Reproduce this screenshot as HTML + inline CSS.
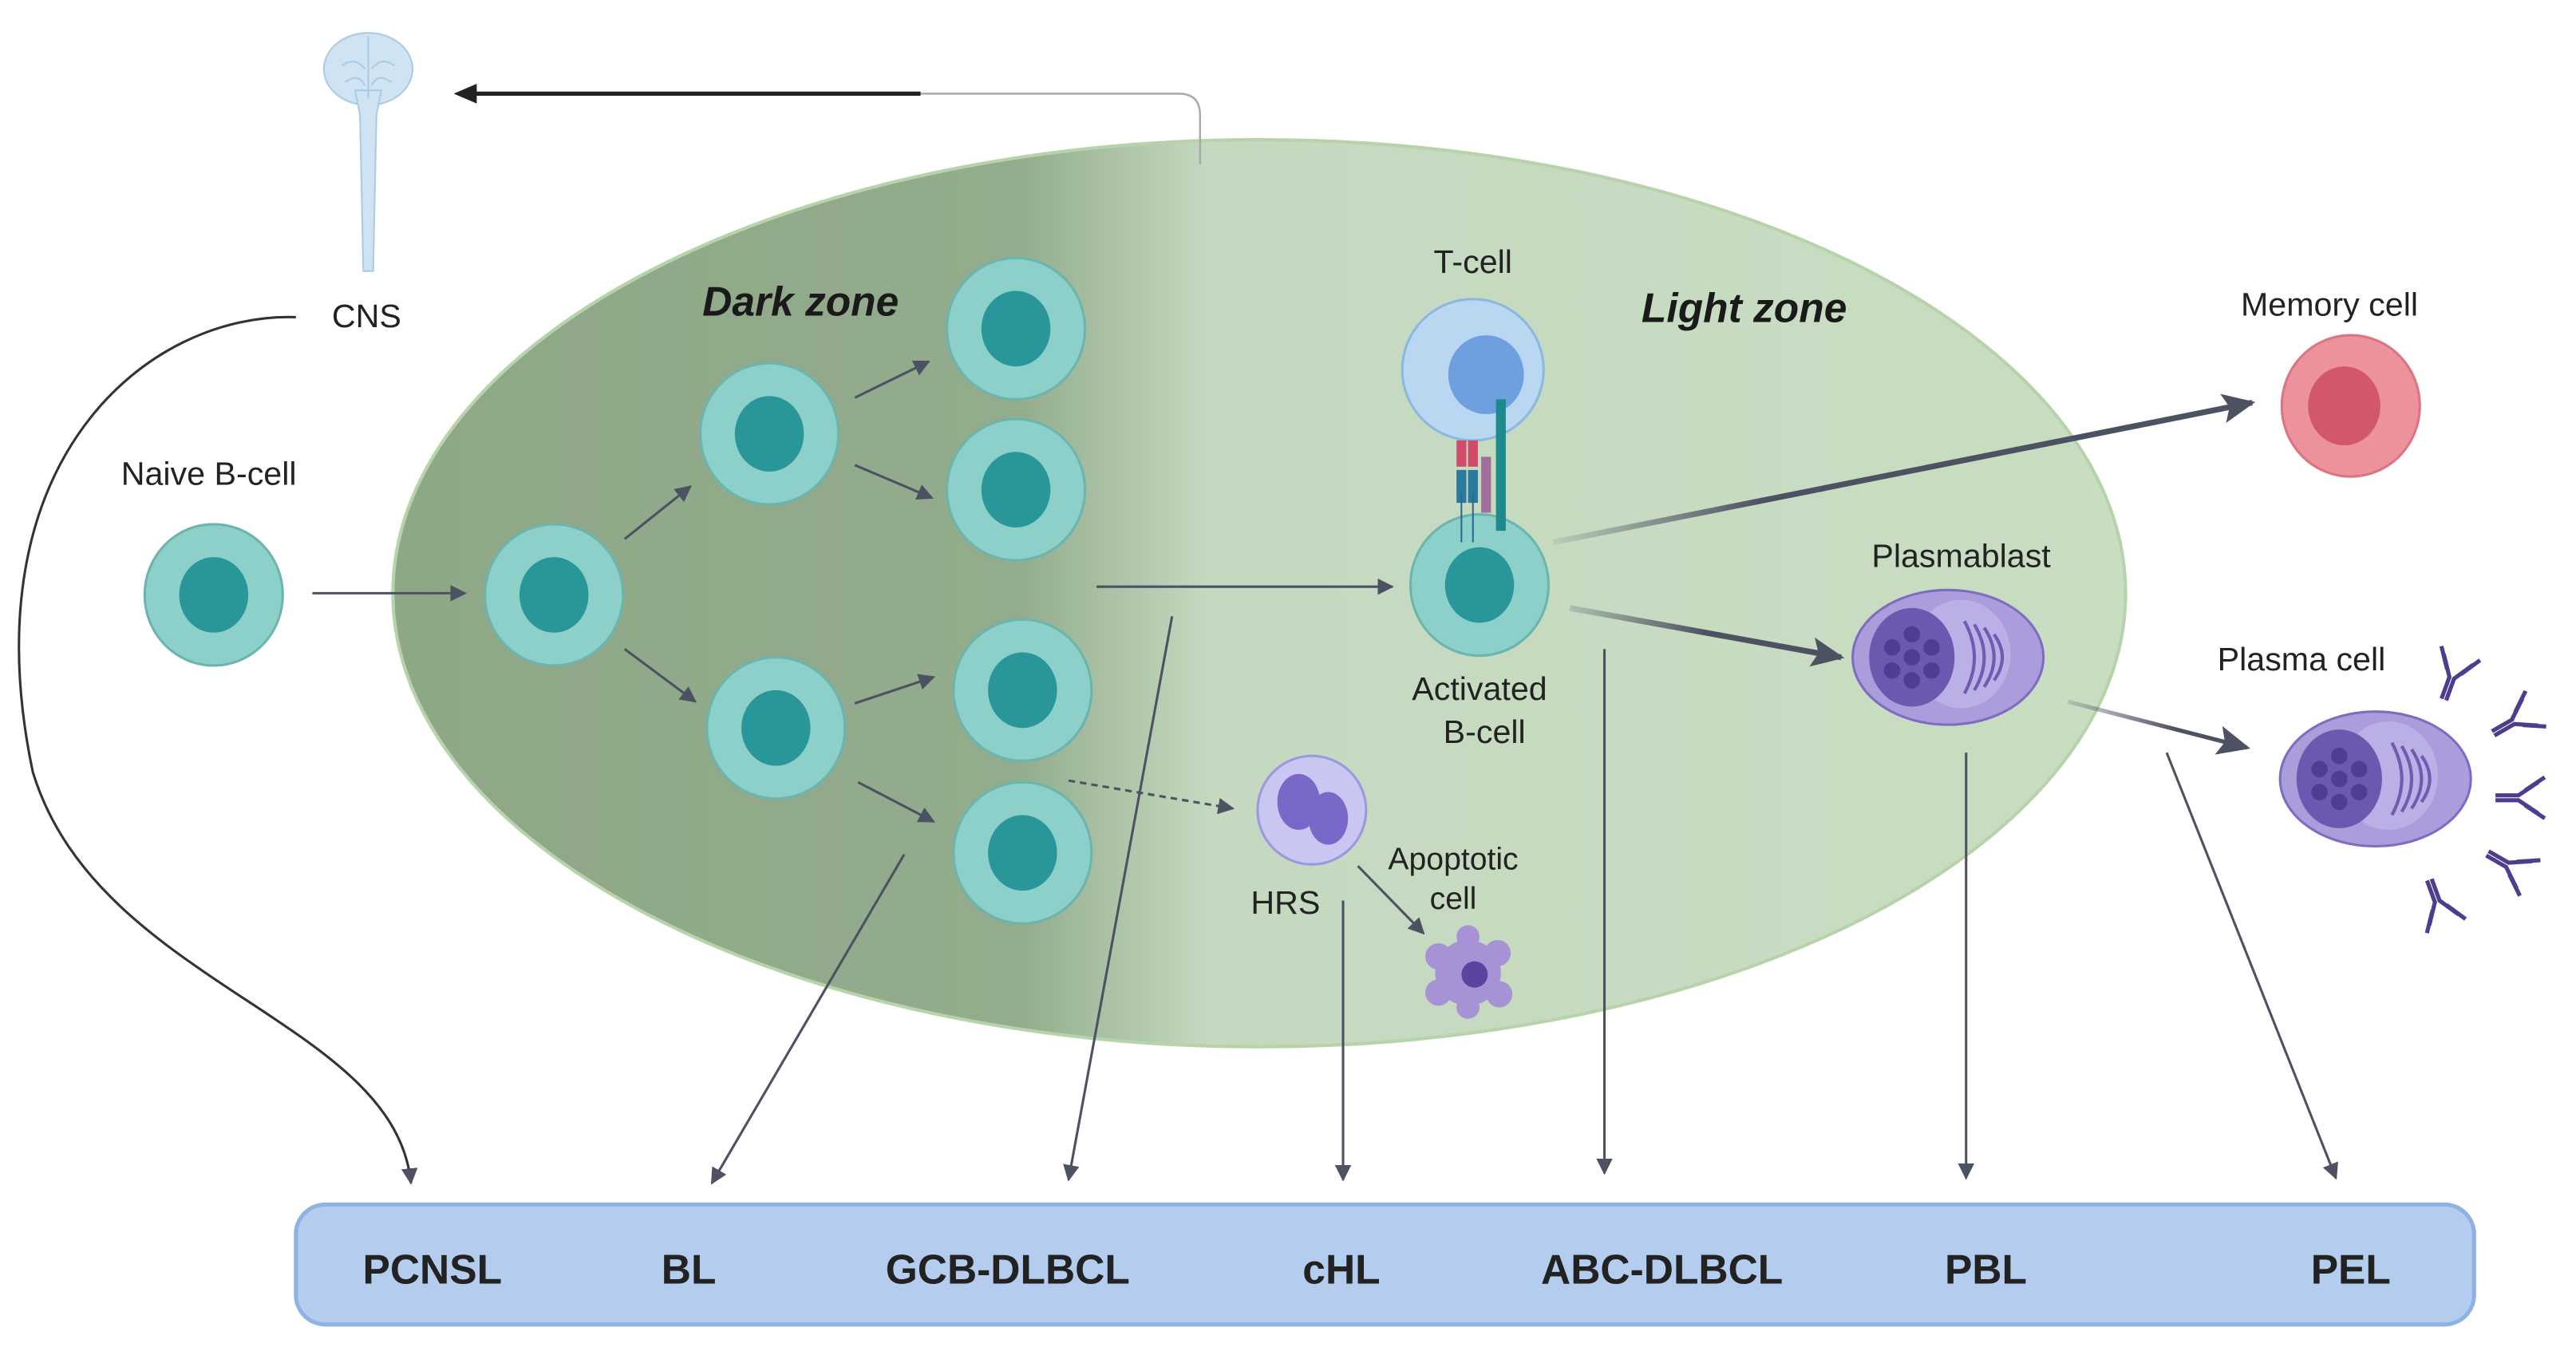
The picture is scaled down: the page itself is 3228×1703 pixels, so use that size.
<!DOCTYPE html>
<html><head><meta charset="utf-8"><style>html,body{margin:0;padding:0;background:#fff}svg{display:block}text{font-family:"Liberation Sans",sans-serif;fill:#222}</style></head><body>
<svg width="3228" height="1703" viewBox="0 0 1567 827" preserveAspectRatio="none" xmlns="http://www.w3.org/2000/svg">
<defs>
<linearGradient id="gz" x1="240" x2="1293" y1="0" y2="0" gradientUnits="userSpaceOnUse">
<stop offset="0" stop-color="#8ea787"/><stop offset="0.36" stop-color="#93ac8d"/><stop offset="0.47" stop-color="#c4d9bf"/><stop offset="1" stop-color="#c9ddc3"/></linearGradient>
<linearGradient id="ga" x1="945" y1="330" x2="1370" y2="245" gradientUnits="userSpaceOnUse"><stop offset="0" stop-color="#4d5263" stop-opacity="0.1"/><stop offset="0.3" stop-color="#4d5263"/></linearGradient>
<linearGradient id="gb" x1="955" y1="370" x2="1120" y2="400" gradientUnits="userSpaceOnUse"><stop offset="0" stop-color="#4d5263" stop-opacity="0.2"/><stop offset="0.5" stop-color="#4d5263"/></linearGradient>
<linearGradient id="gc" x1="1258" y1="427" x2="1367" y2="455" gradientUnits="userSpaceOnUse"><stop offset="0" stop-color="#4d5263" stop-opacity="0.2"/><stop offset="0.6" stop-color="#4d5263"/></linearGradient>
<marker id="ar" markerWidth="10" markerHeight="10" refX="9" refY="5" orient="auto" markerUnits="userSpaceOnUse"><path d="M0,0 L10,5 L0,10 z" fill="#4d5263"/></marker>
<marker id="ar2" markerWidth="20" markerHeight="18" refX="18" refY="9" orient="auto" markerUnits="userSpaceOnUse"><path d="M0,0 L20,9 L0,18 L4,9 z" fill="#4d5263"/></marker>
<g id="bc"><ellipse rx="42" ry="43" fill="#8dcfc9" stroke="#6bb5ae" stroke-width="1.5"/><ellipse rx="21" ry="23" fill="#29979a"/></g>
<g id="pc"><ellipse rx="58" ry="41" fill="#ab9cdb" stroke="#7e6cc0" stroke-width="1.5"/><ellipse cx="8" cy="-2" rx="30" ry="33" fill="#bbb0e6"/><ellipse cx="-22" cy="0" rx="26" ry="30" fill="#6b58b0"/><circle cx="-22" cy="0" r="5" fill="#4e3c95"/><circle cx="-22" cy="-14" r="5" fill="#4e3c95"/><circle cx="-22" cy="14" r="5" fill="#4e3c95"/><circle cx="-34" cy="-6" r="5" fill="#4e3c95"/><circle cx="-34" cy="8" r="5" fill="#4e3c95"/><circle cx="-10" cy="-6" r="5" fill="#4e3c95"/><circle cx="-10" cy="8" r="5" fill="#4e3c95"/><path d="M10,-22 Q22,0 10,22 M16,-20 Q28,0 16,20 M22,-18 Q34,0 22,18 M28,-14 Q38,0 28,14" fill="none" stroke="#6e5cb2" stroke-width="2"/></g>
<g id="ab"><path d="M0,14 L0,0 L-8,-12 M3,14 L3,0 L11,-12 M-3,-4 L-11,-16 M6,-4 L14,-16" stroke="#4e3c8f" stroke-width="2.5" fill="none"/></g>
</defs>
<ellipse cx="766" cy="361" rx="527" ry="276" fill="url(#gz)" stroke="#b6d3aa" stroke-width="2"/>
<path d="M730,100 L730,70 Q730,57 717,57 L560,57" fill="none" stroke="#aaa" stroke-width="1.2"/>
<path d="M560,57 L282,57" stroke="#222" stroke-width="2.5"/><path d="M276,57 L290,51 L290,63 z" fill="#222"/>
<ellipse cx="224" cy="42" rx="27" ry="22" fill="#cfe3f2" stroke="#a9cbe4"/>
<path d="M216,55 L232,55 L229,70 L227,165 L221,165 L219,70 z" fill="#cfe3f2" stroke="#a9cbe4"/>
<path d="M224,22 L224,60 M208,40 Q216,34 222,42 M240,40 Q232,34 226,42 M210,50 Q218,44 222,52 M238,50 Q230,44 226,52" stroke="#a9cbe4" fill="none"/>
<text x="223" y="199" font-size="20" text-anchor="middle">CNS</text>
<path d="M180,193 C90,190 -20,280 20,470 C60,600 240,620 250,720" fill="none" stroke="#333" stroke-width="1.5" marker-end="url(#ar)"/>
<text x="127" y="295" font-size="20" text-anchor="middle">Naive B-cell</text>
<use href="#bc" x="130" y="362"/>
<g stroke="#4d5263" stroke-width="1.5" fill="none" marker-end="url(#ar)">
<line x1="190" y1="361" x2="283" y2="361"/>
<line x1="380" y1="328" x2="420" y2="296"/><line x1="380" y1="395" x2="423" y2="427"/>
<line x1="520" y1="242" x2="565" y2="220"/><line x1="520" y1="283" x2="567" y2="303"/>
<line x1="520" y1="428" x2="568" y2="412"/><line x1="522" y1="476" x2="568" y2="500"/>
<line x1="650" y1="475" x2="750" y2="492" stroke-dasharray="4,3"/>
<line x1="667" y1="357" x2="847" y2="357"/>
<line x1="826" y1="527" x2="866" y2="568"/>
<line x1="550" y1="520" x2="433" y2="720"/><line x1="713" y1="375" x2="650" y2="718"/>
<line x1="817" y1="548" x2="817" y2="718"/><line x1="976" y1="395" x2="976" y2="714"/>
<line x1="1196" y1="458" x2="1196" y2="717"/><line x1="1318" y1="458" x2="1421" y2="717"/>
</g>
<use href="#bc" x="337" y="362"/><use href="#bc" x="468" y="264"/><use href="#bc" x="472" y="443"/>
<use href="#bc" x="618" y="200"/><use href="#bc" x="618" y="298"/><use href="#bc" x="622" y="420"/><use href="#bc" x="622" y="519"/>
<text x="487" y="192" font-size="25" font-weight="bold" font-style="italic" text-anchor="middle" style="fill:#1a1a1a">Dark zone</text>
<text x="1061" y="196" font-size="25" font-weight="bold" font-style="italic" text-anchor="middle" style="fill:#1a1a1a">Light zone</text>
<text x="896" y="166" font-size="20" text-anchor="middle">T-cell</text>
<circle cx="896" cy="225" r="43" fill="#b9d7f1" stroke="#8bb8e0" stroke-width="1.5"/><ellipse cx="904" cy="228" rx="23" ry="24" fill="#6ea0e0"/>
<use href="#bc" x="900" y="356"/>
<rect x="886" y="268" width="6" height="16" fill="#d04a6a"/><rect x="886" y="286" width="6" height="20" fill="#2a7aa0"/>
<rect x="893" y="268" width="6" height="16" fill="#d04a6a"/><rect x="893" y="286" width="6" height="20" fill="#2a7aa0"/>
<rect x="901" y="278" width="6" height="34" fill="#a0709a"/><rect x="910" y="243" width="6" height="80" fill="#1d8a8c"/>
<line x1="889" y1="300" x2="889" y2="330" stroke="#2a6a90"/><line x1="896" y1="300" x2="896" y2="330" stroke="#2a6a90"/>
<text x="900" y="426" font-size="20" text-anchor="middle">Activated</text>
<text x="903" y="452" font-size="20" text-anchor="middle">B-cell</text>
<text x="1417" y="192" font-size="20" text-anchor="middle">Memory cell</text>
<ellipse cx="1430" cy="247" rx="42" ry="43" fill="#eb929c" stroke="#dc7482" stroke-width="1.5"/><ellipse cx="1426" cy="247" rx="22" ry="24" fill="#d2566c"/>
<line x1="945" y1="330" x2="1370" y2="245" stroke="url(#ga)" stroke-width="3.5" marker-end="url(#ar2)"/>
<text x="1193" y="345" font-size="20" text-anchor="middle">Plasmablast</text>
<use href="#pc" x="1185" y="400"/>
<line x1="955" y1="370" x2="1120" y2="400" stroke="url(#gb)" stroke-width="3.5" marker-end="url(#ar2)"/>
<text x="1400" y="408" font-size="20" text-anchor="middle">Plasma cell</text>
<use href="#pc" x="1445" y="474"/>
<line x1="1258" y1="427" x2="1367" y2="455" stroke="url(#gc)" stroke-width="2.5" marker-end="url(#ar2)"/>
<use href="#ab" x="1490" y="412" transform="rotate(20 1490 412)"/><use href="#ab" x="1528" y="438" transform="rotate(60 1528 438)"/>
<use href="#ab" x="1532" y="484" transform="rotate(90 1532 484)"/><use href="#ab" x="1526" y="525" transform="rotate(120 1526 525)"/>
<use href="#ab" x="1484" y="548" transform="rotate(160 1484 548)"/>
<circle cx="798" cy="493" r="33" fill="#c9c6f2" stroke="#9c98e0" stroke-width="1.5"/>
<ellipse cx="790" cy="488" rx="13" ry="17" fill="#7a68c8"/><ellipse cx="808" cy="498" rx="12" ry="16" fill="#7a68c8"/>
<text x="782" y="556" font-size="20" text-anchor="middle">HRS</text>
<text x="884" y="529" font-size="19" text-anchor="middle">Apoptotic</text>
<text x="884" y="553" font-size="19" text-anchor="middle">cell</text>
<g fill="#a892d6"><circle cx="893" cy="592" r="20"/><circle cx="875" cy="582" r="8"/><circle cx="911" cy="580" r="8"/><circle cx="875" cy="604" r="8"/><circle cx="912" cy="605" r="8"/><circle cx="893" cy="570" r="7"/><circle cx="893" cy="613" r="7"/></g>
<circle cx="897" cy="593" r="8" fill="#5a44a0"/>
<rect x="180" y="733" width="1325" height="73" rx="18" fill="#b4cdef" stroke="#8fb1e4" stroke-width="2.5"/>
<g font-size="25" font-weight="bold" text-anchor="middle">
<text x="263" y="781">PCNSL</text><text x="419" y="781">BL</text><text x="613" y="781">GCB-DLBCL</text><text x="816" y="781">cHL</text><text x="1011" y="781">ABC-DLBCL</text><text x="1208" y="781">PBL</text><text x="1430" y="781">PEL</text>
</g>
</svg>
</body></html>
